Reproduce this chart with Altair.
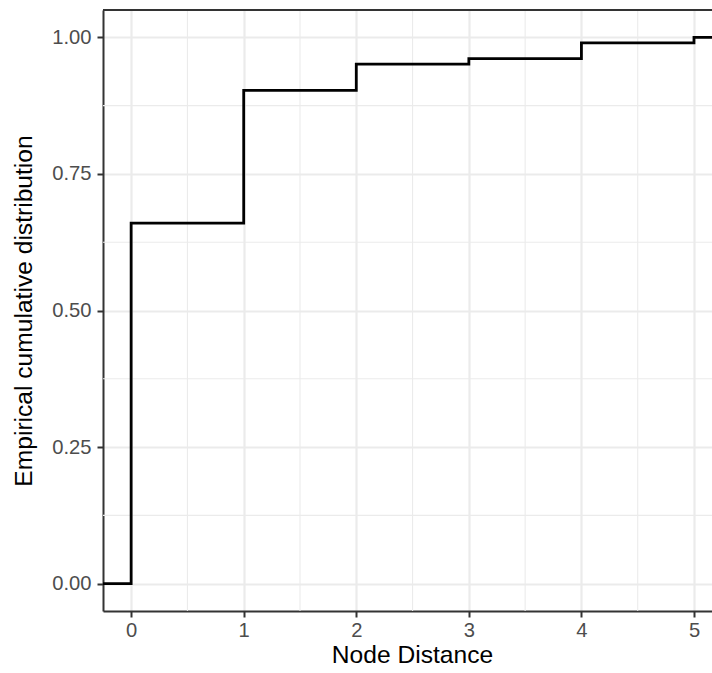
import altair as alt
import pandas as pd

# ECDF step values
node_distance = [0, 1, 2, 3, 4, 5]
ecdf_value = [0.660, 0.903, 0.951, 0.961, 0.990, 1.000]

x_domain = [-0.25, 5.16]
y_domain = [-0.05, 1.05]

x_major = [0, 1, 2, 3, 4, 5]
x_minor = [0.5, 1.5, 2.5, 3.5, 4.5]
y_major = [0.0, 0.25, 0.50, 0.75, 1.00]
y_minor = [0.125, 0.375, 0.625, 0.875]

W, H = 609, 601
FONT = "Liberation Sans"

# step line: ECDF padded at both ends (ggplot uses -Inf / Inf)
step_x = [-0.25] + node_distance + [5.25]
step_y = [0.0] + ecdf_value + [1.0]
df_step = pd.DataFrame({"x": step_x, "y": step_y})

xs = alt.Scale(domain=x_domain, nice=False, zero=False)
ys = alt.Scale(domain=y_domain, nice=False, zero=False)

x_axis = alt.Axis(
    values=x_major, format="d", title="Node Distance",
    labelFont=FONT, labelFontSize=20.2, labelColor="#4D4D4D", labelPadding=3,
    labelFlush=False,
    tickColor="#333333", tickSize=6, tickWidth=2,
    domainColor="#333333", domainWidth=2,
    gridColor="#EBEBEB", gridWidth=2.2,
    titleFont=FONT, titleFontSize=24.6, titleFontWeight="normal", titleColor="black",
    titlePadding=3, titleX=309,
)
y_axis = alt.Axis(
    values=y_major, format=".2f", title="Empirical cumulative distribution",
    labelFont=FONT, labelFontSize=20.2, labelColor="#4D4D4D", labelPadding=6,
    tickColor="#333333", tickSize=6, tickWidth=2,
    domainColor="#333333", domainWidth=2,
    gridColor="#EBEBEB", gridWidth=2.2,
    titleFont=FONT, titleFontSize=24.6, titleFontWeight="normal", titleColor="black",
    titlePadding=15,
)

base_minor_x = alt.Chart(pd.DataFrame({"x": x_minor})).mark_rule(
    color="#EBEBEB", strokeWidth=1.1
).encode(x=alt.X("x:Q", scale=xs, axis=x_axis))

minor_y = alt.Chart(pd.DataFrame({"y": y_minor})).mark_rule(
    color="#EBEBEB", strokeWidth=1.1
).encode(y=alt.Y("y:Q", scale=ys, axis=y_axis))

step = alt.Chart(df_step).mark_line(
    interpolate="step-after", color="black", strokeWidth=2.8, clip=True
).encode(
    x=alt.X("x:Q", scale=xs, axis=x_axis),
    y=alt.Y("y:Q", scale=ys, axis=y_axis),
)

top_border = alt.Chart(pd.DataFrame({"a": [0]})).mark_rule(
    color="#333333", strokeWidth=2
).encode(x=alt.value(0), x2=alt.value(W), y=alt.value(0))

chart = alt.layer(base_minor_x, minor_y, step, top_border).properties(
    width=W, height=H,
    autosize=alt.AutoSizeParams(type="none"),
    padding={"left": 103, "top": 10, "right": 0, "bottom": 62},
    background="white",
).configure_view(stroke=None)

chart.save("out.html", embed_options={"renderer": "svg", "actions": False})
